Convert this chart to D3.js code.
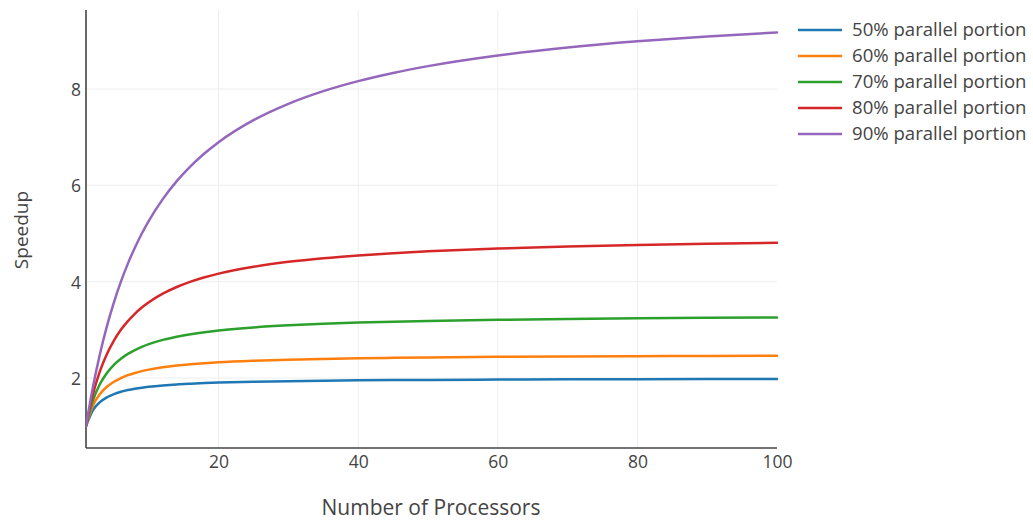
<!DOCTYPE html>
<html><head><meta charset="utf-8">
<script src="https://cdn.jsdelivr.net/npm/d3@7"></script>
<style>body{margin:0;background:#fff}svg{display:block}text{font-family:"Open Sans",sans-serif;fill:#444}</style>
</head><body><svg id="c" width="1033" height="520"></svg>
<script>
const processors = [1,2,3,4,5,6,7,8,9,10,12,14,16,18,20,25,30,35,40,45,50,60,70,80,90,100];
const p50 = [1,1.333,1.5,1.6,1.667,1.714,1.75,1.778,1.8,1.818,1.846,1.867,1.882,1.895,1.905,1.923,1.935,1.944,1.951,1.957,1.961,1.967,1.972,1.975,1.978,1.980];
const p60 = [1,1.429,1.667,1.818,1.923,2.0,2.059,2.105,2.143,2.174,2.222,2.258,2.286,2.308,2.326,2.358,2.381,2.397,2.410,2.419,2.427,2.439,2.448,2.454,2.459,2.463];
const p70 = [1,1.538,1.875,2.105,2.273,2.4,2.5,2.581,2.647,2.703,2.791,2.857,2.909,2.951,2.985,3.049,3.093,3.125,3.150,3.169,3.185,3.209,3.226,3.239,3.249,3.257];
const p80 = [1,1.667,2.143,2.5,2.778,3.0,3.182,3.333,3.462,3.571,3.75,3.889,4.0,4.091,4.167,4.310,4.412,4.487,4.545,4.592,4.630,4.688,4.730,4.762,4.787,4.808];
const p90 = [1,1.818,2.5,3.077,3.571,4.0,4.375,4.706,5.0,5.263,5.714,6.087,6.4,6.667,6.897,7.353,7.692,7.955,8.163,8.333,8.475,8.696,8.861,8.989,9.091,9.174];
const seriesNames = ["50% parallel portion","60% parallel portion","70% parallel portion","80% parallel portion","90% parallel portion"];
const seriesValues = [p50,p60,p70,p80,p90];
const colors = ["#1f77b4","#ff7f0e","#2ca02c","#d62728","#9467bd"];
const xTicks = [20,40,60,80,100];
const yTicks = [2,4,6,8];

const svg = d3.select("#c");
const L=86, R=777, T=10, B=448;
const x = d3.scaleLinear().domain([1,100]).range([L,R]);
const y = d3.scaleLinear().domain([0.547,9.64]).range([B,T]);

const g = svg.append("g");
g.selectAll(".gx").data(xTicks.filter(d=>d<100)).join("line")
  .attr("x1",d=>x(d)).attr("x2",d=>x(d)).attr("y1",T).attr("y2",B)
  .attr("stroke","#eee").attr("stroke-width",1);
g.selectAll(".gy").data(yTicks).join("line")
  .attr("x1",L).attr("x2",R).attr("y1",d=>y(d)).attr("y2",d=>y(d))
  .attr("stroke","#eee").attr("stroke-width",1);

const xAxis = d3.axisBottom(x).tickValues(xTicks).tickSize(0);
const yAxis = d3.axisLeft(y).tickValues(yTicks).tickSize(0).tickPadding(5);
const gx = svg.append("g").attr("transform",`translate(0,${B})`).call(xAxis);
const gy = svg.append("g").attr("transform",`translate(${L},0)`).call(yAxis);
[gx,gy].forEach(a=>{
  a.select(".domain").remove();
  a.selectAll("text").style("font-family","'Open Sans',sans-serif").style("font-size","17.5px").attr("fill","#444");
});
gx.selectAll("text").attr("y",20).attr("dy",0);
gy.selectAll("text").attr("dy","0.38em");
svg.append("line").attr("x1",L).attr("x2",R).attr("y1",B).attr("y2",B).attr("stroke","#444").attr("stroke-width",1.6);
svg.append("line").attr("x1",L).attr("x2",L).attr("y1",T).attr("y2",B).attr("stroke","#444").attr("stroke-width",1.6);

const line = d3.line().x((d,i)=>x(processors[i])).y(d=>y(d)).curve(d3.curveMonotoneX);
svg.append("clipPath").attr("id","clip").append("rect").attr("x",L).attr("y",T).attr("width",R-L+2).attr("height",B-T);
svg.append("g").attr("clip-path","url(#clip)").selectAll("path").data(seriesValues).join("path")
  .attr("d",d=>line(d)).attr("fill","none").attr("stroke",(d,i)=>colors[i]).attr("stroke-width",2.5)
  .attr("stroke-linejoin","round").attr("stroke-linecap","round");

svg.append("text").attr("x",431).attr("y",515).attr("text-anchor","middle").style("font-size","21px").text("Number of Processors");
svg.append("text").attr("transform","translate(28,230) rotate(-90)").attr("text-anchor","middle").style("font-size","19px").text("Speedup");

const lg = svg.append("g").selectAll("g").data(seriesNames).join("g").attr("transform",(d,i)=>`translate(0,${30+i*26})`);
lg.append("line").attr("x1",798).attr("x2",842).attr("y1",0).attr("y2",0).attr("stroke",(d,i)=>colors[i]).attr("stroke-width",2.5);
lg.append("text").attr("x",852).attr("y",6).style("font-size","18.6px").text(d=>d);
</script></body></html>
